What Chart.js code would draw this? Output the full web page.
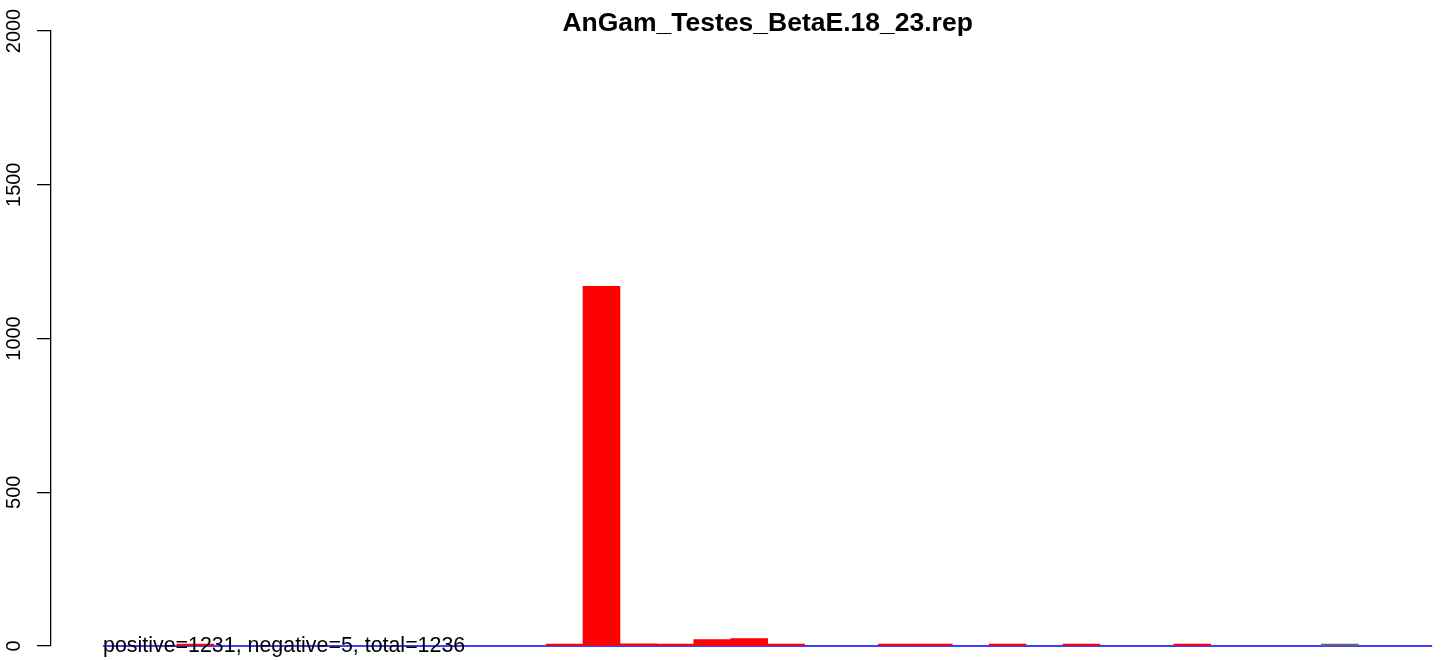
<!DOCTYPE html>
<html>
<head>
<meta charset="utf-8">
<title>AnGam_Testes_BetaE.18_23.rep</title>
<script src="https://cdn.jsdelivr.net/npm/chart.js@4/dist/chart.umd.min.js"></script>
<style>
    html, body { margin: 0; padding: 0; background: #fff; overflow: hidden; }
    #wrap { width: 1444px; height: 660px; }
</style>
</head>
<body>
<div id="wrap"><canvas id="grafico" width="1444" height="660"></canvas></div>
<script>
// =============== DADOS ===============
const titulo = 'AnGam_Testes_BetaE.18_23.rep';
const resumo = 'positive=1231, negative=5, total=1236';

// posição de cada barra (índice da classe)
const classes = [0, 1, 2, 3, 4, 5, 6, 7, 8, 9, 10, 11, 12, 13, 14, 15, 16, 17,
                 18, 19, 20, 21, 22, 23, 24, 25, 26, 27, 28, 29, 30, 31, 32, 33, 34, 35];
// contagens (null = sem barra)
const contagens = [null, null, 1, null, null, null, null, null, null, null, null, null,
                   1, 1170, 7, 1, 21, 24, 1, null, null, 1, 1, null,
                   1, null, 1, null, null, 1, null, null, null, 0, null, null];
const coresBarras = ['red', 'red', 'red', 'red', 'red', 'red', 'red', 'red', 'red', 'red', 'red', 'red',
                     'red', 'red', 'red', 'red', 'red', 'red', 'red', 'red', 'red', 'red', 'red', 'red',
                     'red', 'red', 'red', 'red', 'red', 'red', 'red', 'red', 'red', '#666666', 'red', 'red'];
const yTicks = [0, 500, 1000, 1500, 2000];

const FONTE = '"Liberation Sans", Arial, Helvetica, sans-serif';

// textos desenhados à moda do R (eixo rodado, título, resumo)
const textosR = {
    id: 'textosR',
    afterDraw(chart) {
        const ctx = chart.ctx;
        const x = chart.scales.x;
        const y = chart.scales.y;
        ctx.save();
        ctx.fillStyle = '#000';

        // rótulos do eixo y, rodados
        ctx.font = '20px ' + FONTE;
        ctx.textAlign = 'center';
        ctx.textBaseline = 'alphabetic';
        yTicks.forEach(v => {
            ctx.save();
            ctx.translate(20, y.getPixelForValue(v));
            ctx.rotate(-Math.PI / 2);
            ctx.fillText(String(v), 0, 0);
            ctx.restore();
        });

        // título centrado sobre a região das barras
        ctx.font = 'bold 26.5px ' + FONTE;
        ctx.fillText(titulo, x.getPixelForValue(classes.length / 2), 31);

        // resumo por cima da linha zero
        ctx.font = '21.4px ' + FONTE;
        ctx.textAlign = 'left';
        ctx.fillText(resumo, x.getPixelForValue(classes[0]), y.getPixelForValue(0) + 6);
        ctx.restore();
    }
};

const ctx = document.getElementById('grafico').getContext('2d');
new Chart(ctx, {
    type: 'bar',
    data: {
        datasets: [{
            data: classes.map((c, i) => ({ x: c + 0.5, y: contagens[i] })),
            backgroundColor: coresBarras,
            borderWidth: 0,
            barPercentage: 1,
            categoryPercentage: 1,
            minBarLength: 2
        }, {
            type: 'line',
            data: [{ x: classes[0], y: 0 }, { x: classes[classes.length - 1] + 1, y: 0 }],
            borderColor: '#0000ff',
            borderWidth: 1.5,
            pointRadius: 0,
            clip: false
        }]
    },
    options: {
        responsive: false,
        devicePixelRatio: 1,
        animation: false,
        layout: { padding: { top: 31, bottom: 14, left: 0, right: 0 } },
        plugins: {
            legend: { display: false },
            tooltip: { enabled: false },
            title: { display: false }
        },
        scales: {
            x: {
                type: 'linear',
                min: -1.41,
                max: 36.32,
                offset: false,
                display: false
            },
            y: {
                min: 0,
                max: 2000,
                afterBuildTicks: scale => { scale.ticks = yTicks.map(v => ({ value: v })); },
                afterFit: scale => { scale.width = 51; },
                ticks: { display: false },
                grid: {
                    drawOnChartArea: false,
                    drawTicks: true,
                    tickLength: 14,
                    color: '#000',
                    lineWidth: 1.3
                },
                border: { display: true, color: '#000', width: 1.3 }
            }
        }
    },
    plugins: [textosR]
});
</script>
</body>
</html>
